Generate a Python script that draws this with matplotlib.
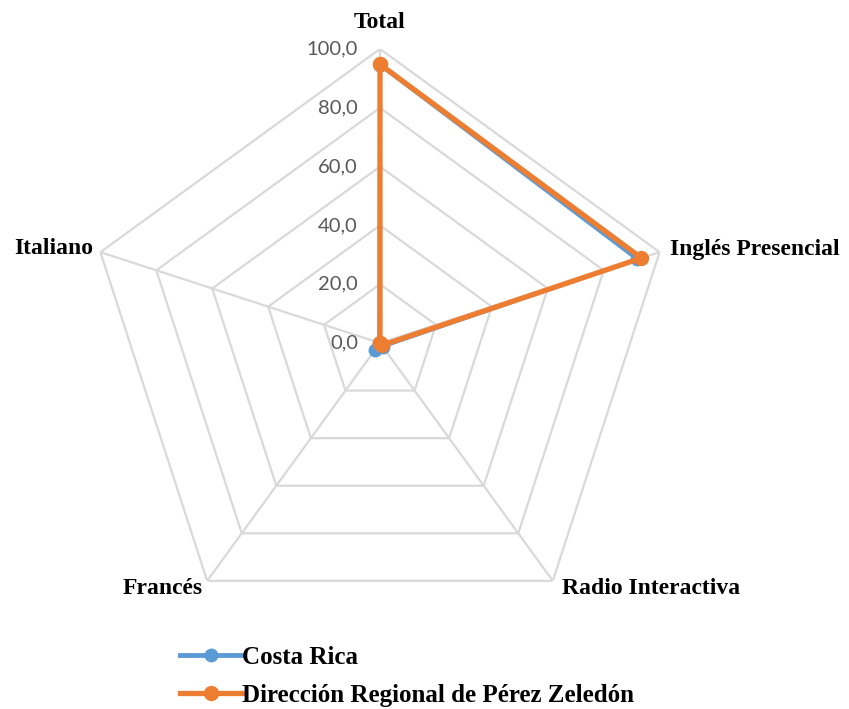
import numpy as np
import matplotlib
matplotlib.use("Agg")
import matplotlib.pyplot as plt
from matplotlib.transforms import offset_copy
from matplotlib.lines import Line2D

categories = ["Total", "Inglés Presencial", "Radio Interactiva", "Francés", "Italiano"]
costa_rica = [94.5, 92.0, 1.5, 2.8, 0.3]
perez_zeledon = [94.8, 93.5, 1.0, 0.0, 0.0]
series_names = ["Costa Rica", "Dirección Regional de Pérez Zeledón"]
rticks = [0, 20, 40, 60, 80, 100]
rtick_labels = ["0,0", "20,0", "40,0", "60,0", "80,0", "100,0"]

BLUE = "#5b9bd5"
ORANGE = "#ed7d31"
GRID = "#d9d9d9"

W, H = 849, 709
fig = plt.figure(figsize=(W / 100, H / 100), dpi=100)
cx, cy, R = 380, 343, 294
ax = fig.add_axes([(cx - R) / W, (H - cy - R) / H, 2 * R / W, 2 * R / H], projection="polar")
ax.set_theta_zero_location("N")
ax.set_theta_direction(-1)
ax.set_ylim(0, 100)
ax.grid(False)
ax.spines["polar"].set_visible(False)
ax.set_xticks([])
ax.set_yticks([])
ax.patch.set_alpha(0)

n = len(categories)
angles = np.arange(n) * 2 * np.pi / n
closed = np.append(angles, angles[0])

for r in rticks[1:]:
    ax.plot(closed, [r] * (n + 1), color=GRID, lw=1.6, zorder=1)
for a in angles:
    ax.plot([a, a], [0, 100], color=GRID, lw=1.6, zorder=1)

for vals, col, lw, ms in [(costa_rica, BLUE, 2.6, 9), (perez_zeledon, ORANGE, 3.8, 10)]:
    ax.plot(closed, np.append(vals, vals[0]), color=col, lw=lw, marker="o", ms=ms,
            solid_joinstyle="round", zorder=3)

tr = offset_copy(ax.transData, fig=fig, x=-22, y=0, units="dots")
for r, lab in zip(rticks, rtick_labels):
    ax.text(0, r, lab, transform=tr, ha="right", va="center", color="#595959",
            fontsize=14.5, family="Lato", zorder=2)

serif = "Liberation Serif"
lab_fs = 17
# category labels
pos = [(380, 22, "center"), (670, 249, "left"), (562, 588, "left"), (203, 588, "right"), (93, 248, "right")]
for cat, a, (px, py, ha) in zip(categories, angles, pos):
    dx = px - (cx + R * np.sin(a))
    dy = -(py - (cy - R * np.cos(a)))
    t = offset_copy(ax.transData, fig=fig, x=dx, y=dy, units="dots")
    ax.text(a, 100, cat, transform=t, ha=ha, va="center", fontsize=lab_fs,
            fontweight="bold", family=serif, clip_on=False)

leg_fs = 18
handles = [Line2D([], [], color=BLUE, lw=3.5, marker="o", ms=9),
           Line2D([], [], color=ORANGE, lw=3.8, marker="o", ms=10)]
leg = fig.legend(handles, series_names, loc="upper left", bbox_to_anchor=(157 / W, 1 - 623 / H),
                 frameon=False, handlelength=2.48, handletextpad=0.0, labelspacing=0.62,
                 prop={"family": serif, "weight": "bold", "size": leg_fs}, markerscale=1.0)

fig.savefig("out.png", dpi=100)
